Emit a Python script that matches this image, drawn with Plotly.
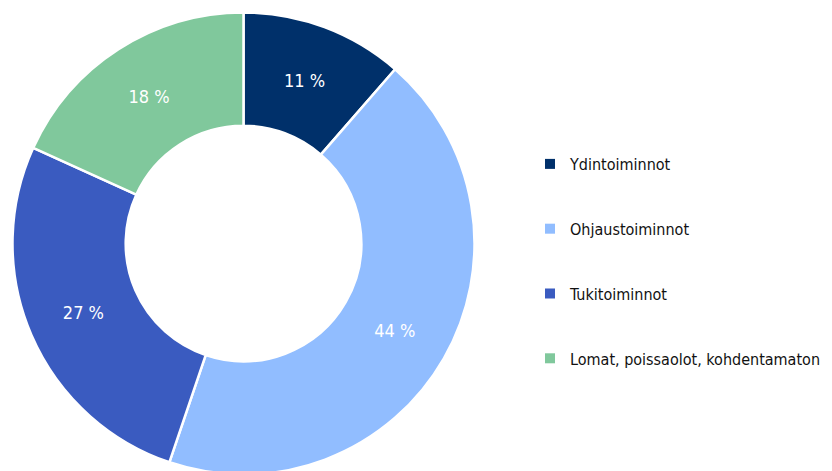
import plotly.graph_objects as go

categories = ["Ydintoiminnot", "Ohjaustoiminnot", "Tukitoiminnot", "Lomat, poissaolot, kohdentamaton"]
values = [11.4, 43.8, 26.6, 18.2]
value_labels = ["11 %", "44 %", "27 %", "18 %"]
colors = ["#00306A", "#91BDFF", "#3A5BC0", "#80C89C"]

FONT = "DejaVu Sans Condensed, sans-serif"

fig = go.Figure()
fig.add_trace(go.Pie(
    labels=categories,
    values=values,
    text=value_labels,
    texttemplate="%{text}",
    textposition="inside",
    insidetextorientation="horizontal",
    textfont=dict(color="white", size=18, family=FONT),
    marker=dict(colors=colors, line=dict(color="white", width=2.5)),
    hole=0.51,
    sort=False,
    direction="clockwise",
    rotation=0,
    showlegend=False,
    domain=dict(x=[0.0054, 0.5607], y=[0.0, 1.0]),
))

for cat, col in zip(categories, colors):
    fig.add_trace(go.Scatter(
        x=[None], y=[None], mode="markers", name=cat,
        marker=dict(symbol="square", size=10, color=col),
        legendgroup=cat, showlegend=True,
    ))

fig.update_layout(
    width=832, height=471,
    margin=dict(l=0, r=0, t=0, b=0, autoexpand=False),
    paper_bgcolor="white", plot_bgcolor="white",
    xaxis=dict(visible=False), yaxis=dict(visible=False),
    legend=dict(
        x=0.6274, y=0.4618, xanchor="left", yanchor="middle",
        font=dict(size=16, family=FONT, color="#111111"),
        tracegroupgap=41, itemwidth=30,
        bgcolor="rgba(0,0,0,0)",
    ),
    font=dict(family=FONT),
)

fig.write_html("out.html")
